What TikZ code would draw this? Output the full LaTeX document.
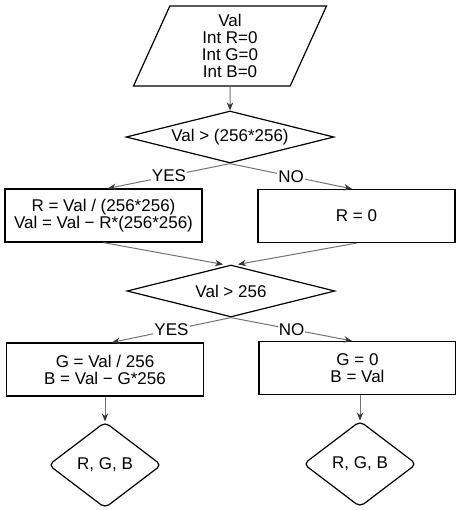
\documentclass[tikz,border=0pt]{standalone}
\usepackage{fontspec}
\setmainfont{Liberation Sans}
\usetikzlibrary{shapes.geometric,arrows.meta}

\tikzset{
	shapebox/.style={draw=black,line width=0.6pt,fill=white,align=center,inner sep=1pt,
		font=\fontsize{8.5}{8.5}\selectfont},
	inbox/.style={shapebox,trapezium,trapezium left angle=61.7,trapezium right angle=118.3,
		trapezium stretches body,minimum width=96.5pt,minimum height=40pt},
	test/.style={shapebox,diamond,aspect=4,minimum width=104pt,minimum height=26pt},
	stepbox/.style={shapebox,rectangle,minimum width=98.5pt,minimum height=26.5pt},
	outbox/.style={shapebox,diamond,rounded corners=2.5pt,minimum width=56.5pt,minimum height=43pt},
	flow/.style={draw=black!55,line width=0.5pt,-{Stealth[length=4pt,width=3.2pt,black!80]}},
	lbl/.style={midway,fill=white,inner sep=0.6pt,font=\fontsize{8.5}{8.5}\selectfont}
}

\begin{document}
\begin{tikzpicture}[x=0.5pt,y=-0.5pt]
		\useasboundingbox (0,0) rectangle (456,510);
		\node[inbox] (inp) at (230,46) {Val\\Int R=0\\Int G=0\\Int B=0};
		\node[test] (t1) at (230,137) {Val > (256*256)};
		\node[stepbox] (r1) at (103.5,215.5) {R = Val / (256*256)\\Val = Val − R*(256*256)};
		\node[stepbox] (r0) at (356.5,216) {R = 0};
		\node[test] (t2) at (231,291) {Val > 256};
		\node[stepbox] (g1) at (105,369.5) {G = Val / 256\\B = Val − G*256};
		\node[stepbox] (g0) at (357.5,368) {G = 0\\B = Val};
		\node[outbox] (o1) at (105,465) {R, G, B};
		\node[outbox] (o2) at (360,464) {R, G, B};
		\draw[flow] (inp.south) -- (t1.north);
		\draw[flow] (t1.south) -- node[lbl]{YES} ([xshift=2.25pt]r1.north);
		\draw[flow] (t1.south) -- node[lbl]{NO} ([xshift=-2.25pt]r0.north);
		\draw[flow] (r1.south) -- ([xshift=-4pt]t2.north);
		\draw[flow] (r0.south) -- ([xshift=3.5pt]t2.north);
		\draw[flow] (t2.south) -- node[lbl]{YES} ([xshift=3.5pt]g1.north);
		\draw[flow] (t2.south) -- node[lbl]{NO} ([xshift=-2.75pt]g0.north);
		\draw[flow] (g1.south) -- (o1.north);
		\draw[flow] (g0.south -| o2) -- (o2.north);
	\end{tikzpicture}
\end{document}
